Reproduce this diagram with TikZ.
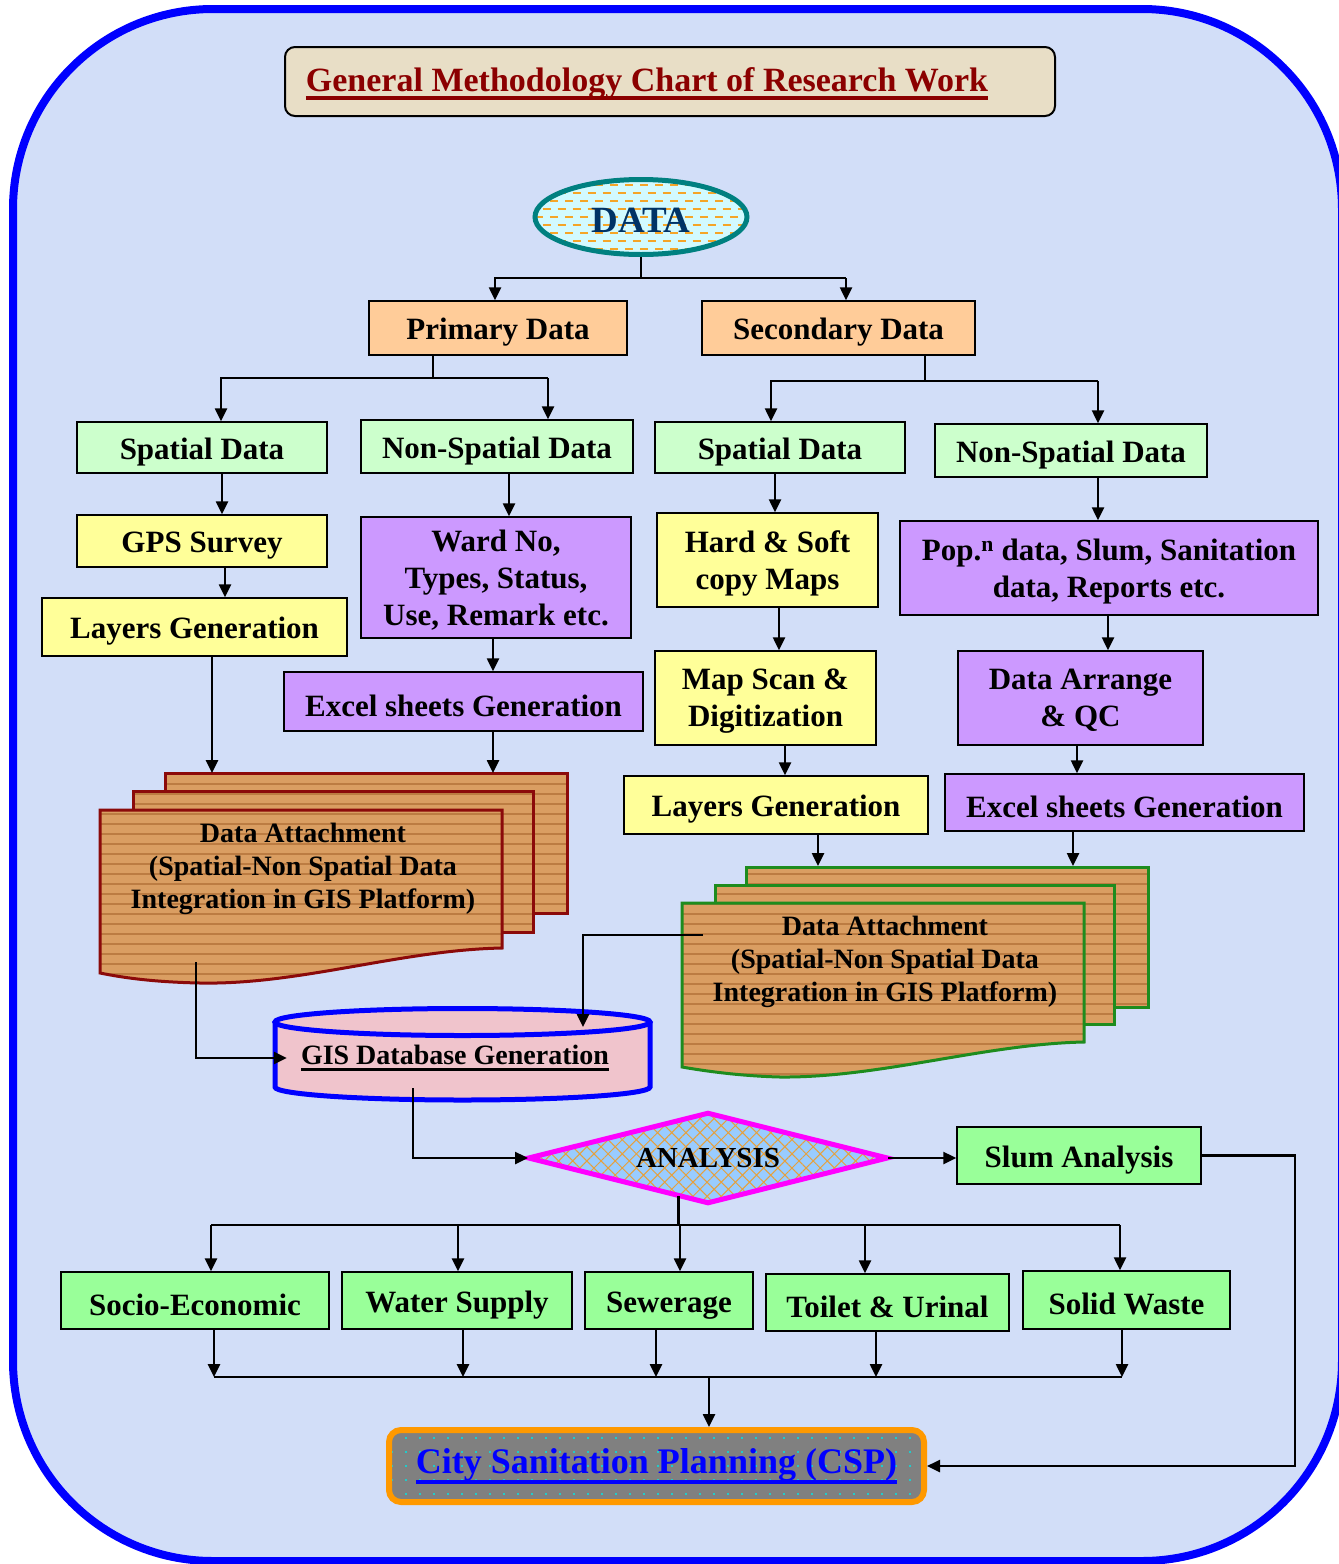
\documentclass[tikz,border=0pt]{standalone}
\usepackage{fontspec}
\setmainfont{Liberation Serif}
\usetikzlibrary{arrows.meta, shapes.geometric, patterns.meta, calc}

\definecolor{bgblue}{RGB}{210,222,248}
\definecolor{framebl}{RGB}{0,0,255}
\definecolor{titlebg}{RGB}{232,222,198}
\definecolor{titlered}{RGB}{139,0,0}
\definecolor{datafill}{RGB}{210,250,255}
\definecolor{datateal}{RGB}{0,128,128}
\definecolor{datanavy}{RGB}{0,51,102}
\definecolor{dashorange}{RGB}{245,165,40}
\definecolor{peach}{RGB}{255,204,153}
\definecolor{mint}{RGB}{204,255,204}
\definecolor{lemon}{RGB}{255,255,153}
\definecolor{lilac}{RGB}{204,153,255}
\definecolor{leaf}{RGB}{153,255,153}
\definecolor{woodtan}{RGB}{218,158,98}
\definecolor{woodgrain}{RGB}{188,124,66}
\definecolor{attred}{RGB}{139,10,10}
\definecolor{attgreen}{RGB}{30,140,30}
\definecolor{gispink}{RGB}{240,196,204}
\definecolor{anablue}{RGB}{153,204,255}
\definecolor{anamag}{RGB}{255,0,255}
\definecolor{hatchor}{RGB}{230,160,60}
\definecolor{cspgray}{RGB}{128,128,128}
\definecolor{csporange}{RGB}{255,153,0}
\definecolor{cspdot}{RGB}{0,230,230}

% underline of given depth and thickness
\newcommand{\csul}[3]{\setbox0=\hbox{#3}\rlap{\rule[-#1]{\wd0}{#2}}\box0}

\tikzset{
  box/.style={draw=black, line width=1.5pt, inner sep=0pt, align=center,
    font=\fontsize{31}{37}\selectfont\bfseries},
  oneline/.style={text height=30pt},
  twoline/.style={text depth=0pt},
  peachbox/.style={box, fill=peach},
  mintbox/.style={box, fill=mint},
  lemonbox/.style={box, fill=lemon},
  lilacbox/.style={box, fill=lilac},
  leafbox/.style={box, fill=leaf},
  conn/.style={line width=2.5pt},
  arr/.style={line width=2.5pt, -{Triangle[length=13pt,width=12pt]}},
  sheetL/.style={draw=attred, line width=3pt, preaction={fill=woodtan},
    pattern={Lines[angle=0,distance=10pt,line width=1.5pt]}, pattern color=woodgrain},
  sheetR/.style={sheetL, draw=attgreen},
  atttext/.style={align=center, inner sep=0pt, font=\fontsize{28}{33}\selectfont\bfseries},
}

\begin{document}
\begin{tikzpicture}[x=1pt, y=-1pt]
    \useasboundingbox (0,0) rectangle (1339,1564);
    % frame
    \draw[line width=8pt, draw=framebl, fill=bgblue, rounded corners=200pt] (13,9) rectangle (1342,1561);

    % title
    \node[draw=black, line width=2pt, fill=titlebg, rounded corners=10pt, minimum width=770pt, minimum height=69pt] (title) at (670,81.5) {};
    \node[anchor=base, inner sep=0pt, text=titlered, font=\fontsize{34}{40}\selectfont\bfseries] (titletext) at (647,91) {\csul{9pt}{4pt}{General Methodology Chart of Research Work}};

    % data
    \node[ellipse, draw=datateal, line width=5pt, fill=datafill, minimum width=212pt, minimum height=75pt, inner sep=0pt,
        text=datanavy, text height=32pt, font=\fontsize{37}{42}\selectfont\bfseries,
        path picture={
            \foreach \k in {-32,-16,...,32}
                \draw[dashorange, line width=2pt, dash pattern=on 8pt off 7pt, dash phase=0pt]
                    ([yshift=\k pt]path picture bounding box.west) -- ([yshift=\k pt]path picture bounding box.east);
            \foreach \k in {-24,-8,...,24}
                \draw[dashorange, line width=2pt, dash pattern=on 8pt off 7pt, dash phase=7.5pt]
                    ([yshift=\k pt]path picture bounding box.west) -- ([yshift=\k pt]path picture bounding box.east);
        }] (data) at (641,217) {DATA};

    % boxes
    \node[peachbox, oneline, minimum width=258pt, minimum height=54pt] (primary) at (498,328) {Primary Data};
    \node[peachbox, oneline, minimum width=273pt, minimum height=54pt] (secondary) at (838.5,328) {Secondary Data};
    \node[mintbox, oneline, minimum width=250pt, minimum height=51pt] (spatialL) at (202,447.5) {Spatial Data};
    \node[mintbox, oneline, minimum width=272pt, minimum height=53pt] (nonspatL) at (497,446.5) {Non-Spatial Data};
    \node[mintbox, oneline, minimum width=250pt, minimum height=51pt] (spatialR) at (780,447.5) {Spatial Data};
    \node[mintbox, oneline, minimum width=272pt, minimum height=53pt] (nonspatR) at (1071,450.5) {Non-Spatial Data};
    \node[lemonbox, oneline, minimum width=250pt, minimum height=52pt] (gps) at (202,541) {GPS Survey};
    \node[lemonbox, oneline, minimum width=305pt, minimum height=58pt] (layersL) at (194.5,627) {Layers Generation};
    \node[lilacbox, twoline, minimum width=270pt, minimum height=121pt] (ward) at (496,577.5) {Ward No,\\Types, Status,\\Use, Remark etc.};
    \node[lilacbox, oneline, minimum width=359pt, minimum height=59pt] (excelL) at (463.5,701.5) {Excel sheets Generation};
    \node[lemonbox, twoline, minimum width=221pt, minimum height=94pt] (hardsoft) at (767.5,560) {Hard \& Soft\\copy Maps};
    \node[lemonbox, twoline, minimum width=221pt, minimum height=94pt] (mapscan) at (765.5,698) {Map Scan \&\\Digitization};
    \node[lemonbox, oneline, minimum width=304pt, minimum height=58pt] (layersR) at (776,805) {Layers Generation};
    \node[lilacbox, twoline, minimum width=418pt, minimum height=94pt] (pop) at (1109,568) {Pop.\textsuperscript{n} data, Slum, Sanitation\\data, Reports etc.};
    \node[lilacbox, twoline, minimum width=245pt, minimum height=94pt] (arrange) at (1080.5,698) {Data Arrange\\\& QC};
    \node[lilacbox, oneline, minimum width=359pt, minimum height=57pt] (excelR) at (1124.5,802.5) {Excel sheets Generation};

    % data attachment, left
    \draw[sheetL] (165,773) rectangle (567,913);
    \draw[sheetL] (133,791) rectangle (533,932);
    \draw[sheetL] (100,810) -- (502,810) -- (502,948) .. controls (400,950) and (300,985) .. (200,983)
        .. controls (150,982) and (120,977) .. (100,973) -- cycle;
    \node[atttext] (attL) at (303,869) {Data Attachment\\(Spatial-Non Spatial Data\\Integration in GIS Platform)};

    % data attachment, right
    \draw[sheetR] (746,867) rectangle (1148,1007);
    \draw[sheetR] (715,885) rectangle (1114,1024);
    \draw[sheetR] (682,903) -- (1084,903) -- (1084,1042) .. controls (985,1044) and (880,1078) .. (780,1077)
        .. controls (740,1076) and (705,1071) .. (682,1067) -- cycle;
    \node[atttext] (attR) at (885,962) {Data Attachment\\(Spatial-Non Spatial Data\\Integration in GIS Platform)};

    % gis database
    \draw[line width=5pt, draw=framebl, fill=gispink] (275,1022) -- (275,1087)
        arc[start angle=180, end angle=0, x radius=187.5, y radius=13] -- (650,1022);
    \draw[line width=5pt, draw=framebl, fill=gispink] (462.5,1022) ellipse [x radius=187.5, y radius=13.5];
    \node[inner sep=0pt, minimum width=336pt, font=\fontsize{28}{33}\selectfont\bfseries] (gisdb) at (455,1058) {\csul{6pt}{2.5pt}{GIS Database Generation}};

    % analysis
    \node[diamond, aspect=4, inner sep=0pt, draw=anamag, line width=5pt, preaction={fill=anablue},
        pattern={Hatch[angle=45,distance=10pt,line width=1pt]}, pattern color=hatchor,
        minimum width=359pt, minimum height=90pt, font=\fontsize{29}{33}\selectfont\bfseries] (analysis) at (708,1158) {ANALYSIS};
    \node[leafbox, oneline, minimum width=244pt, minimum height=57pt] (slum) at (1079,1155.5) {Slum Analysis};

    \node[leafbox, oneline, minimum width=268pt, minimum height=57pt] (socio) at (195,1300.5) {Socio-Economic};
    \node[leafbox, oneline, minimum width=230pt, minimum height=57pt] (water) at (457,1300.5) {Water Supply};
    \node[leafbox, oneline, minimum width=168pt, minimum height=57pt] (sewer) at (669,1300.5) {Sewerage};
    \node[leafbox, oneline, minimum width=243pt, minimum height=57pt] (toilet) at (887.5,1302.5) {Toilet \& Urinal};
    \node[leafbox, oneline, minimum width=207pt, minimum height=58pt] (solid) at (1126.5,1300) {Solid Waste};

    % csp
    \node[draw=csporange, line width=6pt, rounded corners=12pt, preaction={fill=cspgray},
        pattern={Dots[distance=14pt,radius=1.2pt]}, pattern color=cspdot,
        minimum width=535pt, minimum height=72pt, text=blue, font=\fontsize{36}{42}\selectfont\bfseries] (csp) at (656.5,1466) {\csul{10pt}{4pt}{City Sanitation Planning (CSP)}};

    % connectors, top
    \coordinate (dL) at (495,278);
    \coordinate (dR) at (846,278);
    \draw[conn] (data.south) -- (data.south |- dL);
    \draw[arr] (dR) -- (dL) -- (dL |- primary.north);
    \draw[arr] (dR) -- (dR |- secondary.north);

    \coordinate (pM) at (433,378);
    \coordinate (pL) at (221,378);
    \coordinate (pR) at (548,378);
    \draw[conn] (primary.south -| pM) -- (pM);
    \draw[arr] (pR) -- (pL) -- (pL |- spatialL.north);
    \draw[arr] (pR) -- (pR |- nonspatL.north);

    \coordinate (sM) at (925,381);
    \coordinate (sL) at (771,381);
    \coordinate (sR) at (1098,381);
    \draw[conn] (secondary.south -| sM) -- (sM);
    \draw[arr] (sR) -- (sL) -- (sL |- spatialR.north);
    \draw[arr] (sR) -- (sR |- nonspatR.north);

    % connectors, columns
    \coordinate (stackLtop) at (0,773);
    \coordinate (stackRtop) at (0,866);
    \coordinate (c1) at (222,0);
    \coordinate (c2) at (225,0);
    \coordinate (c3) at (212,0);
    \coordinate (c4) at (509,0);
    \coordinate (c5) at (493,0);
    \coordinate (c6) at (775,0);
    \coordinate (c7) at (779,0);
    \coordinate (c8) at (785,0);
    \coordinate (c9) at (818,0);
    \coordinate (c10) at (1098,0);
    \coordinate (c11) at (1108,0);
    \coordinate (c12) at (1077,0);
    \coordinate (c13) at (1073,0);
    \draw[arr] (spatialL.south -| c1) -- (gps.north -| c1);
    \draw[arr] (gps.south -| c2) -- (layersL.north -| c2);
    \draw[arr] (layersL.south -| c3) -- (stackLtop -| c3);
    \draw[arr] (nonspatL.south -| c4) -- (ward.north -| c4);
    \draw[arr] (ward.south -| c5) -- (excelL.north -| c5);
    \draw[arr] (excelL.south -| c5) -- (stackLtop -| c5);
    \draw[arr] (spatialR.south -| c6) -- (hardsoft.north -| c6);
    \draw[arr] (hardsoft.south -| c7) -- (mapscan.north -| c7);
    \draw[arr] (mapscan.south -| c8) -- (layersR.north -| c8);
    \draw[arr] (layersR.south -| c9) -- (stackRtop -| c9);
    \draw[arr] (nonspatR.south -| c10) -- (pop.north -| c10);
    \draw[arr] (pop.south -| c11) -- (arrange.north -| c11);
    \draw[arr] (arrange.south -| c12) -- (excelR.north -| c12);
    \draw[arr] (excelR.south -| c13) -- (stackRtop -| c13);

    % connectors, to gis and analysis
    \coordinate (attLout) at (196,962);
    \coordinate (attRout) at (703,935);
    \coordinate (gisin) at (583,1027);
    \coordinate (gisout) at (413,1088);
    \draw[arr] (attLout) |- (gisdb.west);
    \draw[arr] (attRout) -| (gisin);
    \draw[arr] (gisout) |- (analysis.west);
    \draw[arr] (analysis.east) -- (analysis.east -| slum.west);

    % connectors, bottom
    \coordinate (aL) at (211,1225);
    \coordinate (aR) at (1120,1225);
    \draw[conn] (analysis.232) -- (analysis.232 |- aL);
    \draw[conn] (aL) -- (aR);
    \foreach \xx/\nn in {211/socio, 458/water, 680/sewer, 865/toilet, 1120/solid}{
        \coordinate (tmp) at (\xx,1225);
        \draw[arr] (tmp) -- (tmp |- \nn.north);
    }
    \coordinate (bL) at (214,1377);
    \coordinate (bR) at (1122,1377);
    \coordinate (bM) at (709,1377);
    \foreach \xx/\nn in {214/socio, 463/water, 656/sewer, 876/toilet, 1122/solid}{
        \coordinate (tmp) at (\xx,1377);
        \draw[arr] (\nn.south -| tmp) -- (tmp);
    }
    \draw[conn] (bL) -- (bR);
    \draw[arr] (bM) -- (bM |- csp.north);

    \coordinate (loopR) at (1295,1300);
    \draw[arr] (slum.east) -| (loopR) |- (csp.east);
\end{tikzpicture}
\end{document}
